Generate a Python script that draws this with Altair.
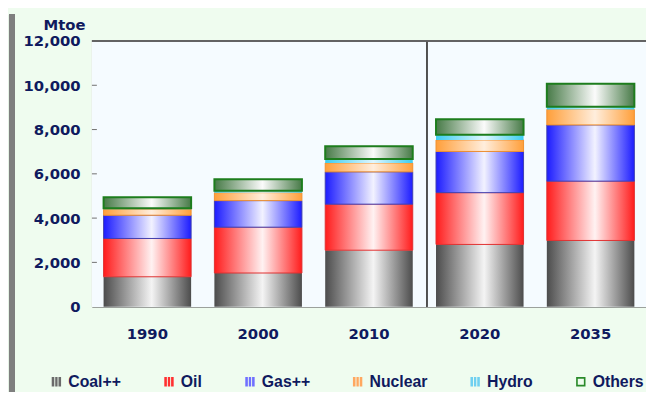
import altair as alt
import pandas as pd

years = ["1990", "2000", "2010", "2020", "2035"]
sources = ["Coal++", "Oil", "Gas++", "Nuclear", "Hydro", "Others"]
coal = [1350, 1520, 2550, 2810, 2990]
oil = [1730, 2070, 2080, 2340, 2680]
gas = [1050, 1200, 1460, 1860, 2540]
nuclear = [270, 360, 400, 520, 700]
hydro = [50, 90, 180, 240, 120]
others = [490, 520, 580, 700, 1040]
y_ticks = [0, 2000, 4000, 6000, 8000, 10000, 12000]

series = [coal, oil, gas, nuclear, hydro, others]
rows = []
for si, (name, vals) in enumerate(zip(sources, series)):
    for y, v in zip(years, vals):
        rows.append({"year": y, "source": name, "order": si, "value": v})
df = pd.DataFrame(rows)

# style per series: (edge colour, centre colour, stroke, strokeWidth)
styles = {
    "Coal++": ("#4c4c4c", "#f4f4f4", "#5a5a5a", 0),
    "Oil": ("#ff1c1c", "#fff2f2", "#e03030", 1),
    "Gas++": ("#1c1cff", "#f2f2ff", "#4040b0", 1),
    "Nuclear": ("#ff9f3a", "#ffeedd", "#f09030", 1),
    "Hydro": ("#3ccdf0", "#dff7ff", "#3ccdf0", 0),
    "Others": ("#477a47", "#fbfbfb", "#1d7d1d", 2),
}
legend_colors = ["#6a6a6a", "#ff3030", "#7070ff", "#ffa860", "#70d0f0", "#2a8a2a"]
stripes = "M-1,-1H-0.45V1H-1Z M-0.25,-1H0.25V1H-0.25Z M0.45,-1H1V1H0.45Z"
hollow = "M-1,-1H1V1H-1Z M-0.65,-0.65V0.65H0.65V-0.65Z"

navy = "#0f1a5e"
font = "DejaVu Sans"
lfont = "Liberation Sans"

base = alt.Chart(df).transform_stack(
    stack="value", groupby=["year"], as_=["y0", "y1"],
    sort=[alt.SortField("order", "ascending")]
)

xenc = alt.X("year:N", sort=years, title=None,
             scale=alt.Scale(paddingInner=0.21, paddingOuter=0.105),
             axis=alt.Axis(labelAngle=0, labelFont=font, labelFontSize=15,
                           labelFontWeight="bold", labelColor=navy,
                           labelPadding=20, ticks=False, domain=True,
                           domainColor="#707070", domainWidth=1))
yenc = alt.Y("y0:Q", scale=alt.Scale(domain=[0, 12000], nice=False),
             axis=alt.Axis(values=y_ticks, format=",.0f", grid=False, ticks=False,
                           domain=True, domainColor="#707070", domainWidth=1,
                           labelFont=font, labelFontSize=15,
                           labelFontWeight="bold", labelColor=navy,
                           labelPadding=12, title="Mtoe", titleAngle=0,
                           titleAlign="right", titleX=-7, titleY=-17,
                           titleBaseline="middle", titleFont=font,
                           titleFontSize=15, titleFontWeight="bold",
                           titleColor=navy))

layers = []
for name in sources:
    edge, centre, stroke, sw = styles[name]
    grad = alt.LinearGradient(
        gradient="linear", x1=0, x2=1, y1=0, y2=0,
        stops=[alt.GradientStop(color=edge, offset=0),
               alt.GradientStop(color=centre, offset=0.55),
               alt.GradientStop(color=edge, offset=1)])
    kw = dict(fill=grad)
    if sw > 0:
        kw.update(stroke=stroke, strokeWidth=sw)
    else:
        kw.update(strokeWidth=0)
    layers.append(
        base.transform_filter(alt.datum.source == name)
        .mark_bar(**kw)
        .encode(x=xenc, y=yenc, y2="y1:Q")
    )

legend_props = dict(title=None, orient="none", direction="horizontal",
                    columns=6, legendX=-44, legendY=337,
                    symbolOpacity=1, symbolSize=90,
                    symbolStrokeWidth=0,
                    columnPadding=40, labelOffset=4,
                    labelFont=lfont, labelFontSize=16,
                    labelFontWeight="bold",
                    labelColor=navy, labelLimit=200)

legend_layer = alt.Chart(df).mark_point(filled=True, opacity=0, size=1).encode(
    color=alt.Color("source:N", sort=sources,
                    scale=alt.Scale(domain=sources, range=legend_colors),
                    legend=alt.Legend(**legend_props)),
    shape=alt.Shape("source:N", sort=sources,
                    scale=alt.Scale(domain=sources,
                                    range=[stripes] * 5 + [hollow]),
                    legend=alt.Legend(**legend_props)),
)

tick_df = pd.DataFrame({"t": y_ticks[1:-1]})

plotbg = alt.Chart(tick_df).mark_rect(color="#f5fbff").encode(
    x=alt.value(0), x2=alt.value(561), y=alt.value(0), y2=alt.value(269))

yticks = alt.Chart(tick_df).mark_rule(color="#707070", strokeWidth=1).encode(
    y=alt.Y("t:Q", scale=alt.Scale(domain=[0, 12000], nice=False)),
    x=alt.value(0), x2=alt.value(5))

divider = alt.Chart(tick_df).mark_rule(color="#505050", strokeWidth=1.5).encode(
    x=alt.value(339), y=alt.value(0), y2=alt.value(269))

topline = alt.Chart(tick_df).mark_rule(color="#606060", strokeWidth=1).encode(
    x=alt.value(0), x2=alt.value(561), y=alt.value(0))

leftbar = alt.Chart(tick_df).mark_rule(color="#7f7f7f", strokeWidth=6).encode(
    x=alt.value(-81), y=alt.value(-27), y2=alt.value(370))

chart = alt.layer(plotbg, leftbar, *layers, yticks, divider, topline, legend_layer).properties(
    width=561, height=269,
    background="#effcef",
    autosize=alt.AutoSizeParams(type="none"),
    padding={"left": 85, "top": 31, "right": 0, "bottom": 84},
).configure_view(
    strokeWidth=0
).resolve_scale(y="shared")

chart.save("out.html", embed_options={"renderer": "svg", "actions": False})
